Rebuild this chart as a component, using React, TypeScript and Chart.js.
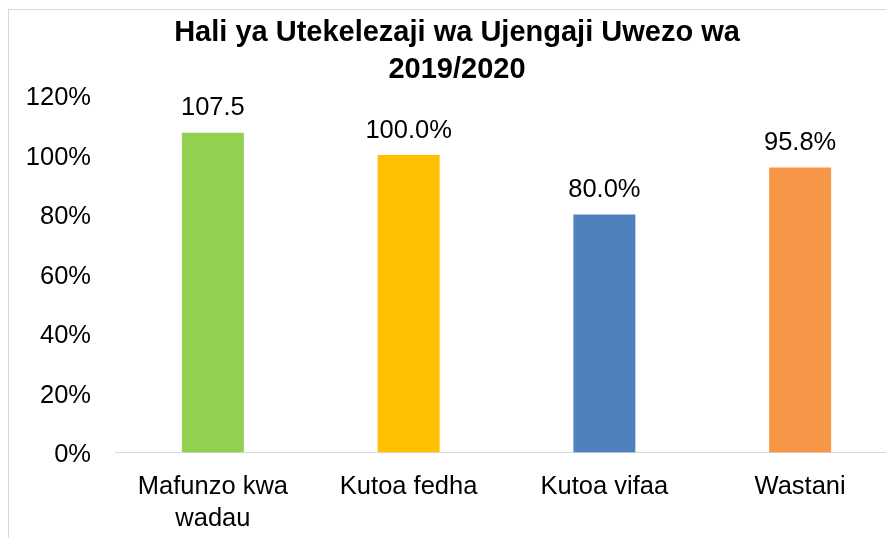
import React, { useEffect, useRef } from "react";
import { Chart, registerables } from "chart.js";

Chart.register(...registerables);

const titleLines = ["Hali ya Utekelezaji wa Ujengaji Uwezo wa", "2019/2020"];
const categories = [["Mafunzo kwa", "wadau"], "Kutoa fedha", "Kutoa vifaa", "Wastani"];
const values = [107.5, 100.0, 80.0, 95.8];
const valueLabels = ["107.5", "100.0%", "80.0%", "95.8%"];
const barColors = ["#92D050", "#FFC000", "#4F81BD", "#F79646"];
const yTicks = [0, 20, 40, 60, 80, 100, 120];

const FONT = '"Liberation Sans", Arial, Helvetica, sans-serif';

const W = 898;
const H = 529;

export default function App() {
  const ref = useRef<HTMLCanvasElement | null>(null);

  useEffect(() => {
    if (!ref.current) return;
    const titlePlugin = {
      id: "customTitle",
      afterDraw(chart: any) {
        const ctx = chart.ctx;
        ctx.save();
        ctx.fillStyle = "#000";
        ctx.font = `bold 29px ${FONT}`;
        ctx.textAlign = "center";
        ctx.textBaseline = "alphabetic";
        ctx.fillText(titleLines[0], W / 2, 32);
        ctx.fillText(titleLines[1], W / 2, 68.5);
        ctx.restore();
      },
    };
    const labelPlugin = {
      id: "valueLabels",
      afterDatasetsDraw(chart: any) {
        const ctx = chart.ctx;
        const meta = chart.getDatasetMeta(0);
        ctx.save();
        ctx.fillStyle = "#000";
        ctx.font = `25.5px ${FONT}`;
        ctx.textAlign = "center";
        ctx.textBaseline = "alphabetic";
        meta.data.forEach((bar: any, i: number) => {
          ctx.fillText(valueLabels[i], bar.x, bar.y - 17.5);
        });
        ctx.restore();
      },
    };
    const chart = new Chart(ref.current, {
      type: "bar",
      data: {
        labels: categories as any,
        datasets: [
          {
            data: values,
            backgroundColor: barColors,
            borderWidth: 0,
            barPercentage: 1,
            categoryPercentage: 0.3167,
          },
        ],
      },
      options: {
        responsive: false,
        animation: false,
        devicePixelRatio: 1,
        layout: { padding: { top: 86.5, right: 8, left: 0, bottom: 0 } },
        plugins: {
          legend: { display: false },
          title: { display: false },
          tooltip: { enabled: false },
        },
        scales: {
          x: {
            grid: { display: true, drawOnChartArea: false, drawTicks: false },
            border: { display: true, color: "#d9d9d9", width: 1 },
            ticks: {
              color: "#000",
              font: { family: FONT, size: 25.5, lineHeight: 1.23 },
              padding: 19,
              maxRotation: 0,
              autoSkip: false,
            },
            afterFit: (s: any) => {
              s.height = 85.5;
            },
          },
          y: {
            min: 0,
            max: 120,
            afterBuildTicks: (s: any) => {
              s.ticks = yTicks.map((v) => ({ value: v }));
            },
            grid: { display: false, drawTicks: false },
            border: { display: false },
            ticks: {
              color: "#000",
              font: { family: FONT, size: 25.5, lineHeight: "5px" as any },
              padding: 24,
              callback: (v: any) => ["", `${v}%`],
            },
            afterFit: (s: any) => {
              s.width = 107;
            },
          },
        },
      },
      plugins: [titlePlugin, labelPlugin],
    });
    return () => chart.destroy();
  }, []);

  return (
    <>
      <div
        style={{
          position: "fixed",
          left: 8,
          top: 9,
          width: 878,
          height: H,
          overflow: "hidden",
          background: "#fff",
        }}
      >
        <canvas ref={ref} width={W} height={H} style={{ display: "block", width: W, height: H }} />
      </div>
      <div
        style={{
          position: "fixed",
          left: 8,
          top: 9,
          width: 878,
          height: H,
          boxSizing: "border-box",
          borderTop: "1px solid #d9d9d9",
          borderLeft: "1px solid #d9d9d9",
          pointerEvents: "none",
        }}
      />
    </>
  );
}
